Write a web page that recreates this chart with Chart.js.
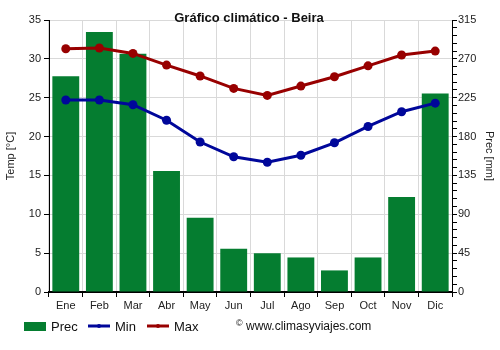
<!DOCTYPE html>
<html>
<head>
<meta charset="utf-8">
<script src="https://cdn.jsdelivr.net/npm/chart.js@4"></script>
<style>
  html, body { margin: 0; padding: 0; background: #fff; }
  #wrap { width: 500px; height: 350px; position: relative; }
</style>
</head>
<body>
<div id="wrap"><canvas id="climaChart"></canvas></div>
<script>
/* ===== DATA ===== */
const months = ["Ene","Feb","Mar","Abr","May","Jun","Jul","Ago","Sep","Oct","Nov","Dic"];
const precMm = [250, 301, 276, 140, 86, 50, 45, 40, 25, 40, 110, 230];
const tempMin = [24.7, 24.7, 24.1, 22.1, 19.3, 17.4, 16.7, 17.6, 19.2, 21.3, 23.2, 24.3];
const tempMax = [31.3, 31.4, 30.7, 29.2, 27.8, 26.2, 25.3, 26.5, 27.7, 29.1, 30.5, 31.0];

const FONT = "'Liberation Sans', Arial, sans-serif";
const GREEN = "#057d30";
const BLUE = "#00079a";
const RED = "#980000";

/* ===== title, legend, credit ===== */
const extras = {
  id: "extras",
  afterDraw(chart) {
    const ctx = chart.ctx;
    ctx.save();
    ctx.fillStyle = "#111";
    ctx.font = "bold 13px " + FONT;
    ctx.textAlign = "center";
    ctx.textBaseline = "middle";
    ctx.fillText("Gráfico climático - Beira", 249, 18);

    ctx.font = "13px " + FONT;
    ctx.textAlign = "left";
    const y = 327;
    // Prec
    ctx.fillStyle = GREEN;
    ctx.fillRect(24, 322, 22, 9);
    ctx.fillStyle = "#111";
    ctx.fillText("Prec", 51, y);
    // Min
    ctx.strokeStyle = BLUE; ctx.lineWidth = 3;
    ctx.beginPath(); ctx.moveTo(88, 326); ctx.lineTo(110, 326); ctx.stroke();
    ctx.fillStyle = BLUE;
    ctx.beginPath(); ctx.arc(99, 326, 2, 0, Math.PI * 2); ctx.fill();
    ctx.fillStyle = "#111";
    ctx.fillText("Min", 115, y);
    // Max
    ctx.strokeStyle = RED;
    ctx.beginPath(); ctx.moveTo(147, 326); ctx.lineTo(169, 326); ctx.stroke();
    ctx.fillStyle = RED;
    ctx.beginPath(); ctx.arc(158, 326, 2, 0, Math.PI * 2); ctx.fill();
    ctx.fillStyle = "#111";
    ctx.fillText("Max", 174, y);
    // credit
    ctx.font = "9px " + FONT;
    ctx.fillText("©", 236, 324);
    ctx.font = "12px " + FONT;
    ctx.fillText("www.climasyviajes.com", 246, y);
    ctx.restore();
  }
};

const ctx = document.getElementById("climaChart").getContext("2d");

new Chart(ctx, {
  data: {
    labels: months,
    datasets: [
      {
        type: "line",
        label: "Max",
        data: tempMax,
        yAxisID: "y",
        borderColor: RED,
        backgroundColor: RED,
        borderWidth: 3,
        pointRadius: 4.5,
        pointBorderWidth: 0,
        pointHoverRadius: 4.5,
        order: 1
      },
      {
        type: "line",
        label: "Min",
        data: tempMin,
        yAxisID: "y",
        borderColor: BLUE,
        backgroundColor: BLUE,
        borderWidth: 3,
        pointRadius: 4.5,
        pointBorderWidth: 0,
        pointHoverRadius: 4.5,
        order: 1
      },
      {
        type: "bar",
        label: "Prec",
        data: precMm,
        yAxisID: "y1",
        backgroundColor: GREEN,
        barPercentage: 0.8,
        categoryPercentage: 1.0,
        order: 2
      }
    ]
  },
  options: {
    responsive: true,
    maintainAspectRatio: false,
    animation: false,
    layout: { padding: { top: 20, bottom: 36, left: 0, right: 0 } },
    plugins: {
      legend: { display: false },
      title: { display: false },
      tooltip: { enabled: false }
    },
    scales: {
      x: {
        offset: true,
        grid: {
          offset: true,
          color: "#d9d9d9",
          lineWidth: 1,
          tickColor: "#000",
          tickLength: 5
        },
        border: { color: "#000", width: 2 },
        ticks: { color: "#222", font: { family: FONT, size: 11 }, padding: 2 },
        afterFit: s => { s.height = 22; }
      },
      y: {
        position: "left",
        min: 0,
        max: 35,
        ticks: { stepSize: 5, color: "#222", font: { family: FONT, size: 11 }, padding: 3 },
        grid: { color: "#d9d9d9", tickColor: "#000", tickLength: 5 },
        border: { color: "#000", width: 1 },
        title: { display: true, text: "Temp [°C]", color: "#222", font: { family: FONT, size: 11 }, padding: { top: 4, bottom: 0 } },
        afterFit: s => { s.width = 49; }
      },
      y1: {
        position: "right",
        min: 0,
        max: 315,
        ticks: {
          stepSize: 9,
          autoSkip: false,
          color: "#222",
          font: { family: FONT, size: 11 },
          padding: 1,
          callback: v => (v % 45 === 0 ? v : "")
        },
        grid: { drawOnChartArea: false, tickColor: "#000", tickLength: 5 },
        border: { color: "#000", width: 1 },
        title: { display: true, text: "Prec [mm]", color: "#222", font: { family: FONT, size: 11 }, padding: { top: 4, bottom: 0 } },
        afterFit: s => { s.width = 48; }
      }
    }
  },
  plugins: [extras]
});
</script>
</body>
</html>
